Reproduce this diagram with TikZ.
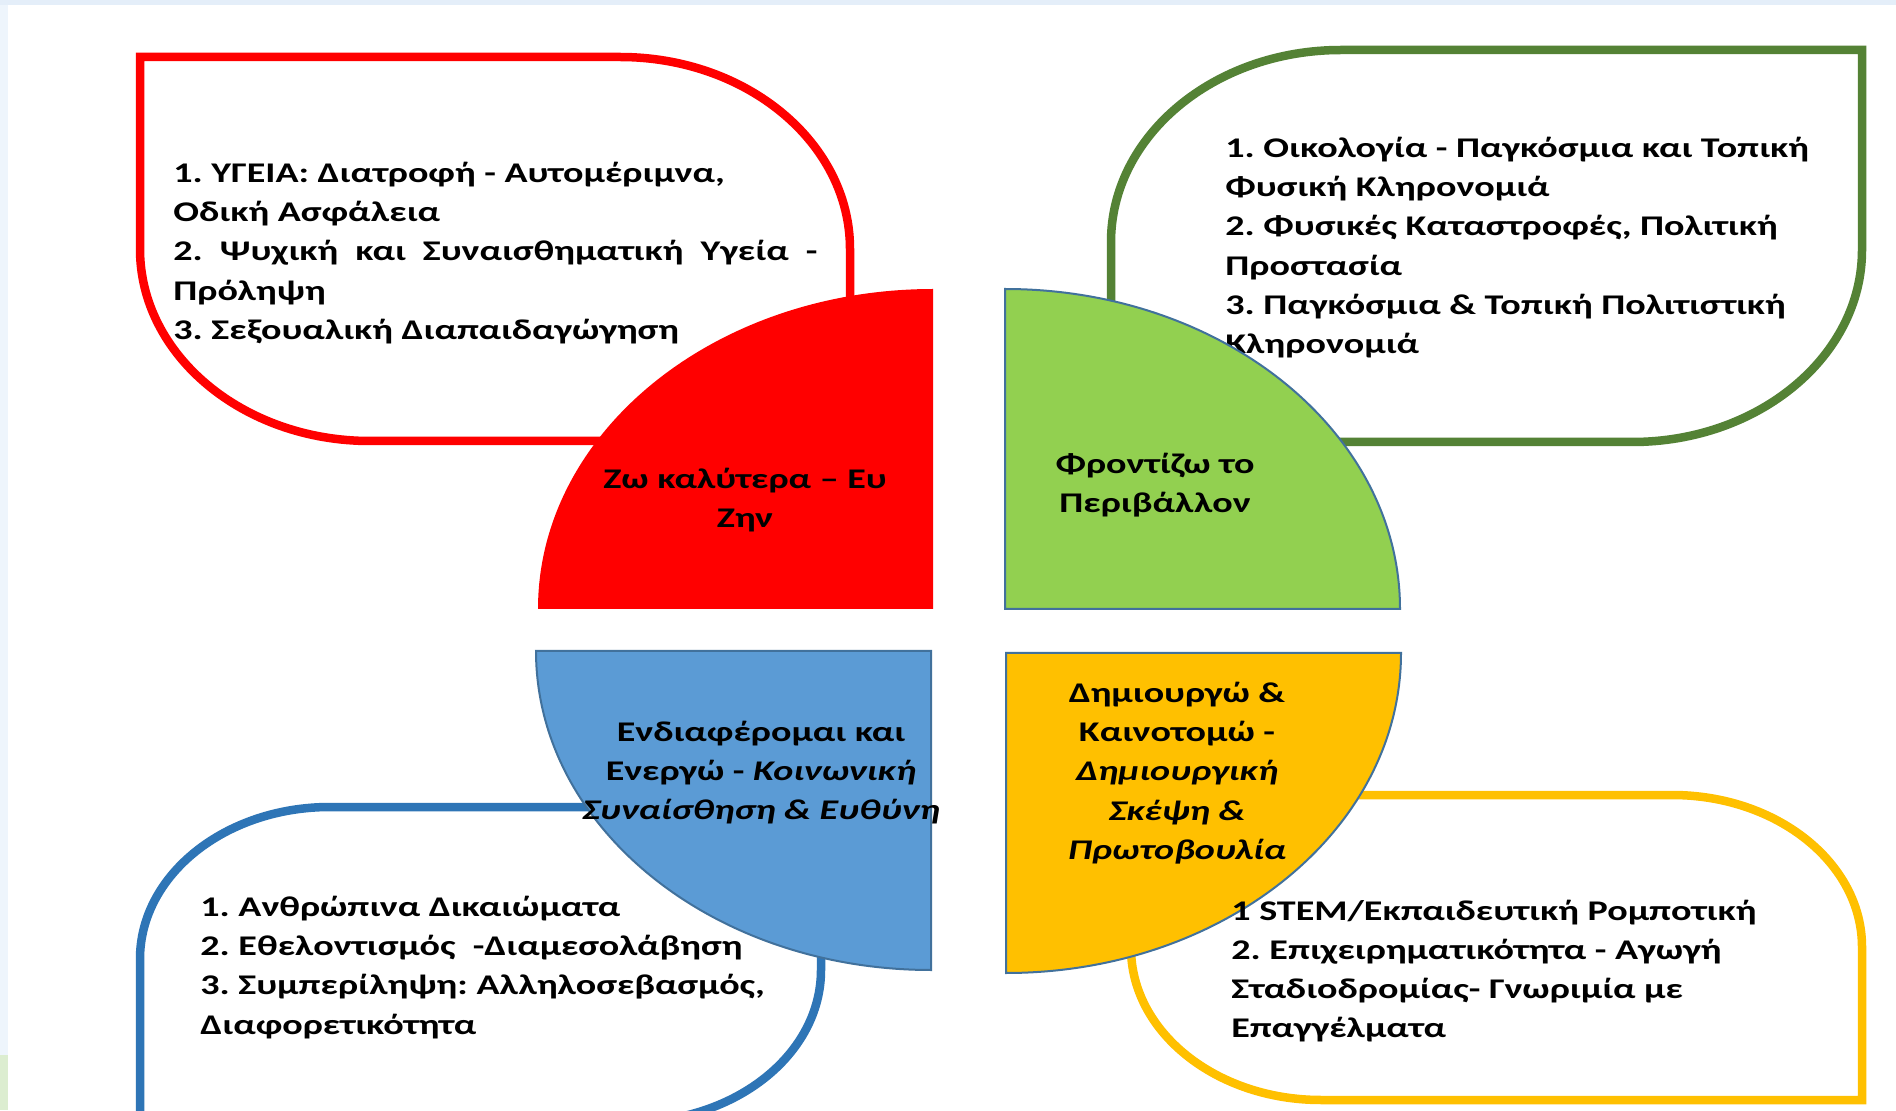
\documentclass[tikz,border=0pt]{standalone}
\usepackage{fontspec}
\newfontfamily\cfont{Carlito}[FakeStretch=1.335]
\definecolor{redc}{HTML}{FF0000}
\definecolor{greenline}{HTML}{548235}
\definecolor{greenfill}{HTML}{92D050}
\definecolor{bluefill}{HTML}{5B9BD5}
\definecolor{blueline}{HTML}{2E75B6}
\definecolor{yellowc}{HTML}{FFC000}
\definecolor{edgec}{HTML}{41719C}
\definecolor{topstrip}{HTML}{E4EEF9}
\definecolor{leftstrip}{HTML}{EEF5FC}
\definecolor{greenstrip}{HTML}{DCEDD0}
\frenchspacing
\begin{document}
\begin{tikzpicture}[x=0.5pt,y=0.5pt,
  topicbox/.style={line width=4.25pt, fill=white},
  quarter/.style={draw=edgec, line width=1pt},
  txt/.style={inner sep=0pt, font=\cfont\bfseries\fontsize{14.25}{19.6}\selectfont},
  boxtext/.style={txt, anchor=north west, align=left},
  qlabel/.style={txt, anchor=north, align=center}]
\useasboundingbox (0,0) rectangle (1896,1110);
\fill[white] (0,0) rectangle (1896,1110);
% screenshot edges
\fill[topstrip] (0,1105) rectangle (1896,1110);
\fill[leftstrip] (0,0) rectangle (8,1105);
\fill[greenstrip] (0,0) rectangle (8,55);

% red box (top-left)
\draw[topicbox, draw=redc] (140,1053) -- (620,1053)
  arc[start angle=90, end angle=0, x radius=230, y radius=192] -- (850,669)
  -- (370,669) arc[start angle=270, end angle=180, x radius=230, y radius=192] -- cycle;
\node[boxtext] (redtext) at (173,955.3) {\strut 1. ΥΓΕΙΑ: Διατροφή - Αυτομέριμνα,\\
  Οδική Ασφάλεια\\
  \makebox[322pt][s]{2. Ψυχική και Συναισθηματική Υγεία -}\\
  Πρόληψη\\
  3. Σεξουαλική Διαπαιδαγώγηση};

% green box (top-right)
\draw[topicbox, draw=greenline] (1111,668) -- (1111,868)
  arc[start angle=180, end angle=90, x radius=230, y radius=192] -- (1862,1060)
  -- (1862,860) arc[start angle=0, end angle=-90, x radius=230, y radius=192] -- cycle;
\node[boxtext] (greentext) at (1225,980.3) {\strut 1. Οικολογία - Παγκόσμια και Τοπική\\
  Φυσική Κληρονομιά\\
  2. Φυσικές Καταστροφές, Πολιτική\\
  Προστασία\\
  3. Παγκόσμια \& Τοπική Πολιτιστική\\
  Κληρονομιά};

% blue box (bottom-left)
\draw[topicbox, draw=blueline] (140,-12) -- (140,151)
  arc[start angle=180, end angle=90, x radius=190, y radius=152] -- (821,303)
  -- (821,140) arc[start angle=0, end angle=-90, x radius=190, y radius=152] -- cycle;
\node[boxtext] (bluetext) at (200,221.3) {\strut 1. Ανθρώπινα Δικαιώματα\\
  2. Εθελοντισμός~ -Διαμεσολάβηση\\
  3. Συμπερίληψη: Αλληλοσεβασμός,\\
  Διαφορετικότητα};

% yellow box (bottom-right)
\draw[topicbox, draw=yellowc] (1131,315) -- (1672,315)
  arc[start angle=90, end angle=0, x radius=190, y radius=152] -- (1862,10)
  -- (1321,10) arc[start angle=270, end angle=180, x radius=190, y radius=152] -- cycle;

% quarter discs
\fill[redc] (933,501) -- (538,501)
  arc[start angle=180, end angle=90, x radius=395, y radius=320] -- cycle;
\draw[quarter, fill=greenfill] (1005,501) -- (1005,821)
  arc[start angle=90, end angle=0, x radius=395, y radius=320] -- cycle;
\draw[quarter, fill=bluefill] (931,459) -- (536,459)
  arc[start angle=180, end angle=270, x radius=395, y radius=319] -- cycle;
\draw[quarter, fill=yellowc] (1006,457) -- (1401,457)
  arc[start angle=0, end angle=-90, x radius=395, y radius=320] -- cycle;

\node[qlabel] (redlabel) at (745,649.8) {\strut Ζω καλύτερα – Ευ\\ Ζην};
\node[qlabel] (greenlabel) at (1155,664.3) {\strut Φροντίζω το\\ Περιβάλλον};
\node[qlabel] (bluelabel) at (761,396.3) {\strut Ενδιαφέρομαι και\\
  Ενεργώ - \textit{Κοινωνική}\\ \textit{Συναίσθηση \& Ευθύνη}};
\node[qlabel] (yellowlabel) at (1177,435.3) {\strut Δημιουργώ \&\\ Καινοτομώ -\\
  \textit{Δημιουργική}\\ \textit{Σκέψη \&}\\ \textit{Πρωτοβουλία}};

\node[boxtext] (yellowtext) at (1231,217.7) {\strut 1 STEM/Εκπαιδευτική Ρομποτική\\
  2. Επιχειρηματικότητα - Αγωγή\\
  Σταδιοδρομίας- Γνωριμία με\\
  Επαγγέλματα};
\end{tikzpicture}
\end{document}
